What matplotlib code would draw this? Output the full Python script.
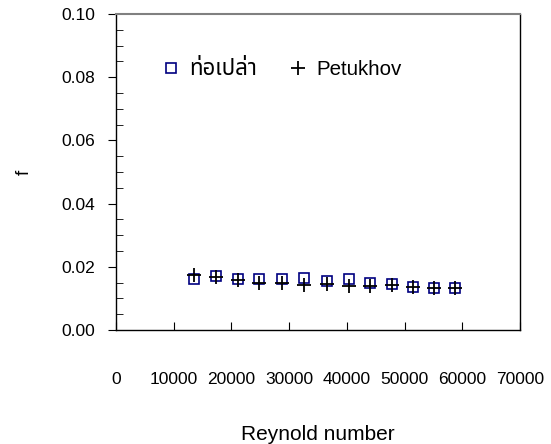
import matplotlib
matplotlib.use('Agg')
from matplotlib import pyplot as plt
from matplotlib.ticker import MultipleLocator, FormatStrFormatter
from matplotlib import font_manager

# Friction factor vs Reynolds number
reynolds = [13600, 17300, 21100, 24800, 28700, 32500, 36500,
            40300, 44000, 47800, 51500, 55100, 58700]
f_plain = [0.0161, 0.0170, 0.0162, 0.0162, 0.0162, 0.0166, 0.0155,
           0.0162, 0.0149, 0.0144, 0.0137, 0.0133, 0.0133]
f_petukhov = [0.0175, 0.0167, 0.0158, 0.0150, 0.0148, 0.0142, 0.0146,
              0.0139, 0.0139, 0.0141, 0.0137, 0.0133, 0.0133]

label_plain = 'ท่อเปล่า'
label_petukhov = 'Petukhov'

# pick a family that has Thai glyphs, if any
names = {f.name for f in font_manager.fontManager.ttflist}
thai = [n for n in ['Noto Sans Thai', 'Noto Sans Thai UI', 'Noto Serif Thai',
                    'Loma', 'Garuda', 'Tahoma', 'Waree'] if n in names]
plt.rcParams['font.family'] = ['Liberation Sans'] + thai + ['DejaVu Sans']

fig = plt.figure(figsize=(5.51, 4.44), dpi=100)
ax = fig.add_axes([116/551, 1-330/444, 404/551, 316/444])

ax.plot(reynolds, f_plain, ls='none', marker='s', ms=7.5, mfc='none',
        mec='#000080', mew=1.2, label=label_plain)
ax.plot(reynolds, f_petukhov, ls='none', marker='+', ms=10,
        color='black', mew=1.3, label=label_petukhov)

ax.set_xlim(0, 70000)
ax.set_ylim(0, 0.10)
ax.set_xticks(range(0, 70001, 10000))
ax.yaxis.set_major_locator(MultipleLocator(0.02))
ax.yaxis.set_minor_locator(MultipleLocator(0.005))
ax.yaxis.set_major_formatter(FormatStrFormatter('%.2f'))

ax.tick_params(axis='x', direction='in', length=6, pad=30, labelsize=12.5)
ax.tick_params(axis='y', which='major', direction='out', length=6,
               pad=9, labelsize=12.5)
ax.tick_params(axis='y', which='minor', direction='in', length=5)
ax.tick_params(top=False, right=False)

for s in ax.spines.values():
    s.set_linewidth(1.0)
ax.spines['top'].set_color('#808080')
ax.spines['top'].set_linewidth(1.5)

ax.set_xlabel('Reynold number', fontsize=15)
ax.xaxis.set_label_coords(0.5, -0.3)
ax.set_ylabel('f', fontsize=13.4)
ax.yaxis.set_label_coords(-0.205, 0.5)

leg = ax.legend(loc='center left', bbox_to_anchor=(0.115, 0.823), ncol=2,
                frameon=False, fontsize=14.8, handlelength=0.8,
                handletextpad=0.5, columnspacing=1.6, borderpad=0,
                borderaxespad=0)
leg.get_texts()[0].set_fontsize(16)

fig.savefig('out.png', dpi=100)
